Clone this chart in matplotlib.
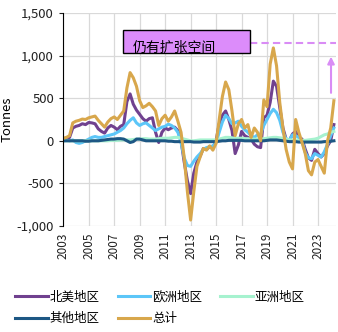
import numpy as np
import pandas as pd
import matplotlib
matplotlib.use("Agg")
import matplotlib.pyplot as plt
import matplotlib.dates as mdates
from matplotlib.patches import Rectangle
from matplotlib.ticker import FuncFormatter

plt.rcParams["font.family"] = ["Noto Sans CJK SC", "DejaVu Sans"]

# =========================================
# DATA (quarterly readings, tonnes)
# =========================================
dates = pd.date_range("2003-01-01", "2024-04-01", freq="3MS")

north_america = [
    0, 10, 40, 150, 170, 180, 200, 190, 215, 210, 200, 140, 110, 90, 150, 180, 160, 130, 170, 190,
    460, 550, 430, 360, 310, 260, 230, 260, 270, 100, -20, 100, 150, 130, 150, 160, 120, 0, -250, -470,
    -620, -380, -250, -180, -90, -100, -70, -80, 0, 200, 300, 350, 250, 120, -150, -50, 110, 60, 40, 20,
    -40, -70, -80, 270, 300, 450, 700, 640, 390, 150, 20, 0, 80, 110, 40, 20, -100, -200, -230, -100,
    -150, -190, -150, -60, 0, 190,
]
europe = [
    0, 10, 0, 10, -20, -30, -20, 0, 20, 40, 50, 40, 40, 50, 60, 70, 80, 100, 120, 150,
    200, 240, 270, 210, 180, 200, 210, 180, 150, 120, 140, 160, 170, 195, 180, 150, 100, -20, -200, -290,
    -300, -240, -190, -150, -100, -80, -70, -60, -20, 100, 220, 300, 260, 200, 210, 230, 170, 130, 100, 60,
    40, 70, 80, 180, 250, 320, 370, 330, 240, 100, 20, 10, 70, 60, 40, 0, -140, -200, -210, -150,
    -170, -190, -130, -40, 60, 150,
]
asia = [
    0, 0, 0, 0, 0, 0, 0, 0, 0, 0, 0, 0, 0, 0, 0, 5, 5, 5, 10, 10,
    10, 10, 15, 20, 20, 25, 25, 20, 20, 20, 25, 30, 30, 30, 35, 40, 40, 30, 20, 10,
    0, 0, 5, 10, 10, 10, 10, 10, 10, 20, 30, 40, 40, 35, 30, 30, 30, 25, 25, 20,
    20, 20, 20, 25, 30, 35, 40, 40, 35, 30, 20, 10, 10, 10, 5, 5, 5, 10, 15, 20,
    30, 50, 70, 80, 100, 110,
]
other = [
    0, 0, 0, 0, 0, 0, 0, -5, -5, 0, 0, 0, 5, 10, 15, 20, 20, 25, 25, 20,
    0, -20, -10, 20, 20, 10, 0, 0, 0, 0, 0, 0, 0, -5, -5, -10, -10, -10, -10, -10,
    -10, -15, -15, -15, -10, -10, -10, -10, -10, -5, 0, 0, 5, 5, 5, 5, 5, 0, 0, 0,
    0, 0, 0, 0, 5, 10, 10, 10, 5, 0, -5, -10, -10, -10, -15, -15, -15, -15, -15, -15,
    -15, -15, -10, -10, -5, 0,
]
total = [
    30, 40, 60, 210, 230, 240, 255, 250, 270, 280, 290, 240, 200, 160, 220, 260, 280, 250, 300, 350,
    620, 800, 740, 640, 470, 390, 410, 440, 400, 350, 180, 260, 300, 230, 280, 350, 230, 100, -200, -600,
    -930, -600, -300, -190, -90, -110, -60, -110, -30, 250, 520, 690, 600, 350, 60, 200, 250, 150, 190, 40,
    150, 100, 0, 480, 400, 900, 1090, 880, 450, 150, -100, -250, -330, 250, 100, -20, -150, -350, -400, -250,
    -220, -300, -380, 0, 150, 470,
]

labels = ["北美地区", "欧洲地区", "亚洲地区", "其他地区", "总计"]
colors = ["#70418F", "#5CC6F8", "#A6F2CF", "#1D5784", "#D8A74C"]
year_ticks = list(range(2003, 2024, 2))

gap_level = 1142       # dashed "room to grow" level
arrow_from, arrow_to = 530, 1020

# =========================================
# PLOT
# =========================================
fig = plt.figure(figsize=(3.38, 3.32), dpi=100)
ax = fig.add_axes([0.1864, 0.3193, 0.8077, 0.6416])

series = [north_america, europe, asia, other, total]
lines = []
for vals, lab, col in zip(series, labels, colors):
    ln, = ax.plot(dates, vals, color=col, lw=2.2, label=lab, solid_joinstyle="round")
    lines.append(ln)

ax.set_ylim(-1000, 1500)
ax.set_yticks(np.arange(-1000, 1501, 500))
ax.yaxis.set_major_formatter(FuncFormatter(lambda v, p: f"{int(v):,}"))
ax.set_xlim(pd.Timestamp("2002-12-25"), pd.Timestamp("2024-06-01"))
ax.set_xticks([pd.Timestamp(f"{y}-01-01") for y in year_ticks])
ax.xaxis.set_major_formatter(mdates.DateFormatter("%Y"))
ax.tick_params(axis="x", rotation=90, length=0, labelsize=8.5, pad=5, colors="#222222")
ax.tick_params(axis="y", length=3, labelsize=9.5, colors="#222222")

ax.grid(True, color="#D9D9D9", lw=0.9)
ax.set_axisbelow(True)
for s in ["top", "right", "bottom"]:
    ax.spines[s].set_visible(False)
ax.spines["left"].set_color("black")
ax.set_ylabel("Tonnes", fontsize=9.5, labelpad=2)

# annotation
ax.plot([pd.Timestamp("2017-08-20"), pd.Timestamp("2024-06-01")], [gap_level, gap_level],
        color="#D98CF5", lw=1.5, ls=(0, (3.5, 2)))
ax.annotate("", xy=(pd.Timestamp("2024-01-10"), arrow_to), xytext=(pd.Timestamp("2024-01-10"), arrow_from),
            arrowprops=dict(arrowstyle="-|>", color="#D98CF5", lw=1.5, mutation_scale=10))
ax.add_patch(Rectangle((0.22, 0.811), 0.465, 0.109, transform=ax.transAxes,
                       facecolor="#DC8CFA", edgecolor="black", lw=1, zorder=5))
ax.text(0.256, 0.836, "仍有扩张空间", transform=ax.transAxes, fontsize=10,
        va="center", ha="left", zorder=6)

# legend, reordered so columns fill row by row
order = [0, 3, 1, 4, 2]
fig.legend([lines[i] for i in order], [labels[i] for i in order],
           loc="upper left", bbox_to_anchor=(0.03, 0.14), ncol=3, frameon=False,
           fontsize=9, handlelength=2.6, handletextpad=0.15, columnspacing=1.45,
           labelspacing=0.7, borderaxespad=0)

fig.savefig("out.png", dpi=100)
